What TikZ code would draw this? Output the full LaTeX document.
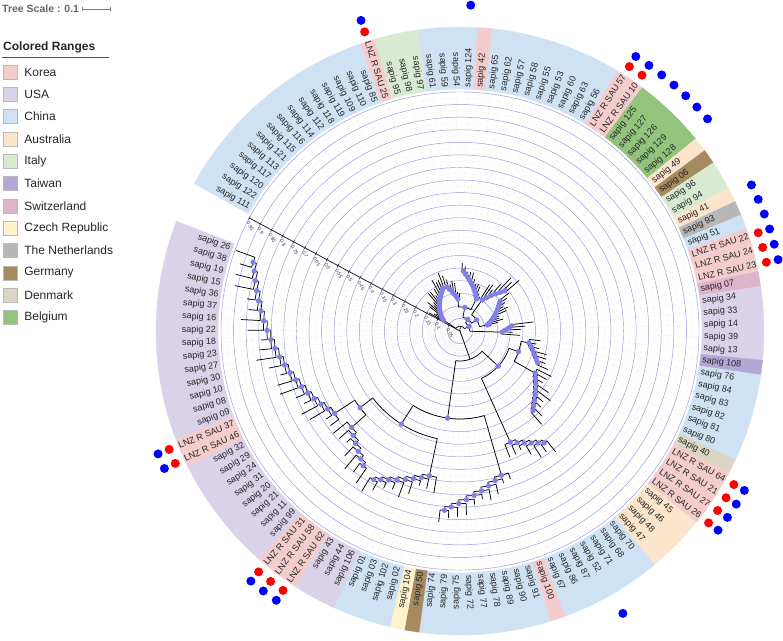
\documentclass[tikz,border=0pt]{standalone}
\usepackage{fontspec}
\setmainfont{Liberation Sans}
\usetikzlibrary{positioning,calc}

% country colours of the coloured ranges
\definecolor{kr}{RGB}{244,204,204}
\definecolor{us}{RGB}{217,210,233}
\definecolor{cn}{RGB}{207,226,243}
\definecolor{au}{RGB}{252,229,205}
\definecolor{it}{RGB}{217,234,211}
\definecolor{tw}{RGB}{180,167,214}
\definecolor{ch}{RGB}{222,180,200}
\definecolor{cz}{RGB}{255,242,204}
\definecolor{nl}{RGB}{183,183,183}
\definecolor{de}{RGB}{166,138,96}
\definecolor{dk}{RGB}{221,213,196}
\definecolor{be}{RGB}{147,196,125}
\definecolor{bsblue}{RGB}{128,128,232}
\definecolor{gridblue}{RGB}{150,150,220}

\pgfdeclarelayer{front}
\pgfsetlayers{main,front}

% angle of leaf number #1 (clockwise from the top left)
\pgfmathdeclarefunction{lfa}{1}{\pgfmathparse{149.6-(#1-1)*2.795}}

% ladder clade: #1 deepest leaf, #2 step, #3 leaves, #4 inner r, #5 outer r, #6 tip
\newcommand{\caterp}[6]{%
  \pgfmathtruncatemacro{\lb}{#1+#2}%
  \draw[branch] ({lfa(#1)}:#5) arc[start angle={lfa(#1)}, end angle={lfa(\lb)}, radius=#5];
  \draw[branch] ({lfa(#1)}:#5) -- ({lfa(#1)}:{#5+#6});
  \draw[branch] ({lfa(\lb)}:#5) -- ({lfa(\lb)}:{#5+0.6*#6});
  \pgfmathsetmacro{\npos}{#1+0.5*#2}\xdef\cpos{\npos}\xdef\crad{#5}%
  \pgfmathtruncatemacro{\nlast}{#3-1}%
  \foreach \j in {2,...,\nlast}{%
    \pgfmathtruncatemacro{\lk}{#1+#2*\j}%
    \pgfmathsetmacro{\rj}{#5-(#5-#4)*(\j-1)/(#3-2)}%
    \draw[branch] ({lfa(\lk)}:\rj) arc[start angle={lfa(\lk)}, end angle={lfa(\cpos)}, radius=\rj];
    \draw[branch] ({lfa(\cpos)}:\rj) -- ({lfa(\cpos)}:\crad);
    \begin{pgfonlayer}{front}
      \fill[bsdot] ({lfa(\cpos)}:\crad) circle (2.7);
    \end{pgfonlayer}
    \pgfmathsetmacro{\tipr}{\rj+#6*(0.65+0.35*sin(\lk*97))}%
    \draw[branch] ({lfa(\lk)}:\rj) -- ({lfa(\lk)}:\tipr);
    \pgfmathsetmacro{\npos}{(\lk+\cpos)/2}\xdef\cpos{\npos}\xdef\crad{\rj}%
  }%
}

% join two clades: pos1, r1, pos2, r2, node r
\newcommand{\joinc}[5]{%
  \draw[branch] ({lfa(#1)}:#5) arc[start angle={lfa(#1)}, end angle={lfa(#3)}, radius=#5];
  \draw[branch] ({lfa(#1)}:#5) -- ({lfa(#1)}:#2);
  \draw[branch] ({lfa(#3)}:#5) -- ({lfa(#3)}:#4);
  \begin{pgfonlayer}{front}
    \fill[bsdot] ({lfa(#1)}:#2) circle (2.7);
    \fill[bsdot] ({lfa(#3)}:#4) circle (2.7);
  \end{pgfonlayer}
  \pgfmathsetmacro{\npos}{(#1+#3)/2}\xdef\cpos{\npos}\xdef\crad{#5}%
}

\begin{document}
\begin{tikzpicture}[
    x=1pt, y=1pt,
    branch/.style={black, line width=0.75pt},
    bsdot/.style={fill=bsblue},
    gridmain/.style={gridblue, line width=0.45pt},
    gridsub/.style={gray!45, dotted, line width=0.35pt},
    axisline/.style={black!85, line width=0.8pt},
    ticklab/.style={font=\fontsize{5}{6}\selectfont, text=black!75, inner sep=0.5pt},
    leaflab/.style={font=\fontsize{9}{10}\selectfont, text=black!85, inner sep=0pt},
    reddot/.style={fill=red},
    bluedot/.style={fill=blue},
    legbox/.style={draw=gray!55, line width=0.4pt, minimum size=14pt, inner sep=0pt},
    legtext/.style={font=\fontsize{12}{13}\selectfont, text=black!85, inner sep=0pt, anchor=west},
    legtitle/.style={font=\fontsize{12}{13}\selectfont\bfseries, text=black!85, inner sep=0pt},
    scaletxt/.style={font=\fontsize{10.5}{11}\selectfont\bfseries, text=black!60, inner sep=0pt}
  ]

    \useasboundingbox (-460,-309) rectangle (323,331);
    \fill[white] (-460,-309) rectangle (323,331);

    % Coloured ranges and leaf labels
    \foreach \i/\nm/\cl in {
      1/sapig 111/cn, 2/sapig 122/cn, 3/sapig 120/cn, 4/sapig 117/cn, 5/sapig 113/cn,
      6/sapig 121/cn, 7/sapig 115/cn, 8/sapig 116/cn, 9/sapig 114/cn, 10/sapig 112/cn,
      11/sapig 118/cn, 12/sapig 119/cn, 13/sapig 109/cn, 14/sapig 110/cn, 15/sapig 85/cn,
      16/LNZ R SAU 25/kr, 17/sapig 95/it, 18/sapig 98/it, 19/sapig 97/it, 20/sapig 61/cn,
      21/sapig 59/cn, 22/sapig 54/cn, 23/sapig 124/cn, 24/sapig 42/kr, 25/sapig 65/cn,
      26/sapig 62/cn, 27/sapig 57/cn, 28/sapig 58/cn, 29/sapig 55/cn, 30/sapig 53/cn,
      31/sapig 60/cn, 32/sapig 63/cn, 33/sapig 56/cn, 34/LNZ R SAU 57/kr, 35/LNZ R SAU 10/kr,
      36/sapig 125/be, 37/sapig 127/be, 38/sapig 126/be, 39/sapig 129/be, 40/sapig 128/be,
      41/sapig 49/au, 42/sapig 06/de, 43/sapig 96/it, 44/sapig 94/it, 45/sapig 41/au,
      46/sapig 93/nl, 47/sapig 51/cn, 48/LNZ R SAU 22/kr, 49/LNZ R SAU 24/kr, 50/LNZ R SAU 23/kr,
      51/sapig 07/ch, 52/sapig 34/us, 53/sapig 33/us, 54/sapig 14/us, 55/sapig 39/us,
      56/sapig 13/us, 57/sapig 108/tw, 58/sapig 76/cn, 59/sapig 84/cn, 60/sapig 83/cn,
      61/sapig 82/cn, 62/sapig 81/cn, 63/sapig 80/cn, 64/sapig 40/dk, 65/LNZ R SAU 64/kr,
      66/LNZ R SAU 21/kr, 67/LNZ R SAU 27/kr, 68/LNZ R SAU 26/kr, 69/sapig 45/au, 70/sapig 46/au,
      71/sapig 48/au, 72/sapig 47/au, 73/sapig 70/cn, 74/sapig 68/cn, 75/sapig 71/cn,
      76/sapig 52/cn, 77/sapig 87/cn, 78/sapig 86/cn, 79/sapig 67/cn, 80/sapig 100/kr,
      81/sapig 91/cn, 82/sapig 90/cn, 83/sapig 89/cn, 84/sapig 78/cn, 85/sapig 77/cn,
      86/sapig 72/cn, 87/sapig 75/cn, 88/sapig 79/cn, 89/sapig 74/cn, 90/sapig 50/de,
      91/sapig 104/cz, 92/sapig 02/cn, 93/sapig 102/cn, 94/sapig 03/cn, 95/sapig 01/cn,
      96/sapig 106/us, 97/sapig 44/us, 98/sapig 43/us, 99/LNZ R SAU 62/kr, 100/LNZ R SAU 58/kr,
      101/LNZ R SAU 31/kr, 102/sapig 99/us, 103/sapig 11/us, 104/sapig 21/us, 105/sapig 20/us,
      106/sapig 31/us, 107/sapig 24/us, 108/sapig 29/us, 109/sapig 32/us, 110/LNZ R SAU 46/kr,
      111/LNZ R SAU 37/kr, 112/sapig 09/us, 113/sapig 08/us, 114/sapig 10/us, 115/sapig 30/us,
      116/sapig 27/us, 117/sapig 23/us, 118/sapig 18/us, 119/sapig 22/us, 120/sapig 16/us,
      121/sapig 37/us, 122/sapig 36/us, 123/sapig 15/us, 124/sapig 19/us, 125/sapig 38/us,
      126/sapig 26/us} {
      \pgfmathsetmacro\la{lfa(\i)}
      \fill[fill=\cl, draw=\cl, line width=0.3pt] ({\la+1.3975}:242) arc[start angle={\la+1.3975}, end angle={\la-1.3975}, radius=242]
        -- ({\la-1.3975}:304) arc[start angle={\la-1.3975}, end angle={\la+1.3975}, radius=304] -- cycle;
      \pgfmathtruncatemacro\side{((\la>90)||(\la<-90))}
      \ifnum\side=1
        \node[leaflab, anchor=east, rotate=\la+180] (lf\i) at (\la:244) {\nm};
      \else
        \node[leaflab, anchor=west, rotate=\la] (lf\i) at (\la:244) {\nm};
      \fi
    }

    % Polar grid
    \foreach \i in {1,...,126}
      \draw[gridsub] ({lfa(\i)}:12.58) -- ({lfa(\i)}:239);
    \foreach \k in {1,...,19} {
      \draw[gridsub] (0,0) circle ({12.58*\k-6.29});
      \draw[gridmain] (0,0) circle ({12.58*\k});
    }

    % Scale axis
    \begin{scope}[rotate=151.8]
      \draw[axisline] (0,0) -- (239,0);
      \foreach \k/\lab in {1/0.05, 2/0.1, 3/0.15, 4/0.2, 5/0.25, 6/0.3, 7/0.35, 8/0.4, 9/0.45, 10/0.5,
                           11/0.55, 12/0.6, 13/0.65, 14/0.7, 15/0.75, 16/0.8, 17/0.85, 18/0.9, 19/0.95} {
        \draw[axisline, line width=0.5pt] ({12.58*\k},-1.8) -- ({12.58*\k},1.8);
        \node[ticklab, anchor=west, rotate=-62] (tk\k) at ({12.58*\k},3.5) {\lab};
      }
    \end{scope}

    % Tree: upper cluster near the root
    \caterp{15}{(-1)}{15}{20}{46}{16} \let\pXa\cpos \let\rXa\crad
    \caterp{16}{1}{7}{32}{46}{12} \let\pXba\cpos \let\rXba\crad
    \caterp{23}{1}{11}{36}{60}{8} \let\pXbb\cpos \let\rXbb\crad
    \joinc{\pXba}{\rXba}{\pXbb}{\rXbb}{24} \let\pXb\cpos \let\rXb\crad
    \caterp{40}{(-1)}{7}{38}{60}{18} \let\pXca\cpos \let\rXca\crad
    \caterp{41}{1}{11}{28}{50}{12} \let\pXcb\cpos \let\rXcb\crad
    \joinc{\pXca}{\rXca}{\pXcb}{\rXcb}{20} \let\pXc\cpos \let\rXc\crad
    \joinc{\pXb}{\rXb}{\pXc}{\rXc}{14} \let\pXbc\cpos \let\rXbc\crad
    \caterp{52}{1}{5}{42}{52}{22} \let\pXd\cpos \let\rXd\crad
    \joinc{\pXbc}{\rXbc}{\pXd}{\rXd}{10} \let\pXbd\cpos \let\rXbd\crad
    \joinc{\pXa}{\rXa}{\pXbd}{\rXbd}{5} \let\pX\cpos \let\rX\crad

    % Tree: lower right clade
    \caterp{63}{(-1)}{7}{70}{84}{12} \let\pYa\cpos \let\rYa\crad
    \caterp{72}{(-1)}{9}{86}{108}{16} \let\pYb\cpos \let\rYb\crad
    \joinc{\pYa}{\rYa}{\pYb}{\rYb}{62} \let\pYab\cpos \let\rYab\crad
    \caterp{73}{1}{7}{122}{140}{14} \let\pYc\cpos \let\rYc\crad
    \joinc{\pYab}{\rYab}{\pYc}{\rYc}{52} \let\pY\cpos \let\rY\crad

    % Tree: bottom and left clades
    \caterp{89}{(-1)}{10}{150}{180}{12} \let\pZa\cpos \let\rZa\crad
    \caterp{98}{(-1)}{9}{148}{172}{16} \let\pZb\cpos \let\rZb\crad
    \caterp{99}{1}{7}{145}{166}{18} \let\pZc\cpos \let\rZc\crad
    \caterp{126}{(-1)}{21}{150}{218}{20} \let\pZd\cpos \let\rZd\crad
    \joinc{\pZc}{\rZc}{\pZd}{\rZd}{126} \let\pZcd\cpos \let\rZcd\crad
    \joinc{\pZb}{\rZb}{\pZcd}{\rZcd}{110} \let\pZbd\cpos \let\rZbd\crad
    \joinc{\pZa}{\rZa}{\pZbd}{\rZbd}{88} \let\pZ\cpos \let\rZ\crad
    \joinc{\pY}{\rY}{\pZ}{\rZ}{30} \let\pW\cpos \let\rW\crad

    % Root
    \draw[branch] (0,0) -- ({lfa(\pX)}:\rX);
    \draw[branch] (0,0) -- ({lfa(\pW)}:\rW);

    % Marker dots outside the ring
    \foreach \i in {16,34,35,48,49,50,65,66,67,68,99,100,101,110,111}
      \fill[reddot] ({lfa(\i)}:314) circle (4.5);
    \foreach \i in {16,23,34,35,36,37,38,39,40,45,46,47,48,49,50,65,66,67,68,76,99,100,101,110,111}
      \fill[bluedot] ({lfa(\i)}:326) circle (4.5);

    % Tree scale
    \node[scaletxt, anchor=west] (tscale) at (-458,322) {Tree Scale : 0.1};
    \coordinate (sba) at ([xshift=3pt]tscale.east);
    \coordinate (sbb) at ([xshift=28pt]sba);
    \draw[gray, line width=0.6pt] (sba) -- (sbb);
    \draw[gray, line width=0.6pt] ([yshift=-2pt]sba) -- ([yshift=2pt]sba);
    \draw[gray, line width=0.6pt] ([yshift=-2pt]sbb) -- ([yshift=2pt]sbb);
    \draw[gray, line width=0.5pt] ($(sba)!0.5!(sbb)$) -- ++(0,-1.5);

    % Legend
    \node[legtitle, anchor=west] (rtitle) at (-457,284) {Colored Ranges};
    \draw[black!70, line width=0.6pt] (-458,274) -- (-351,274);
    \foreach \i/\cl/\nm in {1/kr/Korea, 2/us/USA, 3/cn/China, 4/au/Australia, 5/it/Italy, 6/tw/Taiwan,
                            7/ch/Switzerland, 8/cz/Czech Republic, 9/nl/The Netherlands, 10/de/Germany,
                            11/dk/Denmark, 12/be/Belgium} {
      \node[legbox, fill=\cl] (box\i) at (-450,{259-(\i-1)*22.33}) {};
      \node[legtext, right=7pt of box\i] (leg\i) {\nm};
    }

  \end{tikzpicture}
\end{document}
